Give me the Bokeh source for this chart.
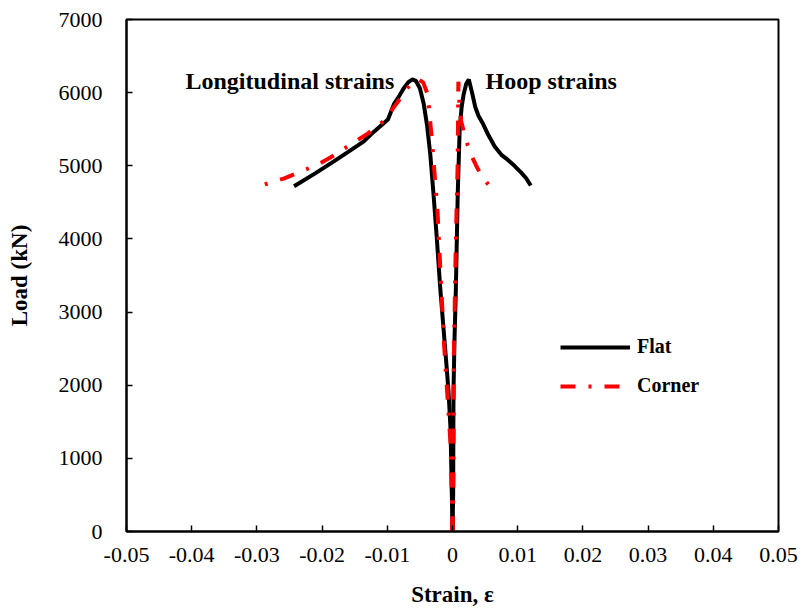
from bokeh.plotting import figure
from bokeh.models import (Range1d, FixedTicker, NumeralTickFormatter, Label,
                          Legend, LegendItem)
from bokeh.embed import file_html
from bokeh.resources import INLINE

# ---------------- data ----------------
flat_long_strain = [0, -0.0001, -0.0003, -0.0006, -0.0009, -0.0014, -0.0019, -0.0024,
                    -0.0029, -0.0034, -0.0039, -0.0044, -0.0050, -0.0056, -0.0062,
                    -0.0068, -0.0075, -0.0084, -0.0090, -0.0099, -0.0120, -0.0136,
                    -0.0160, -0.0182, -0.0210, -0.0243]
flat_long_load = [0, 500, 1400, 1900, 2250, 2800, 3350, 4000,
                  4600, 5150, 5550, 5840, 6060, 6160, 6180,
                  6140, 6057, 5921, 5839, 5634, 5470, 5334,
                  5190, 5061, 4900, 4720]

flat_hoop_strain = [0, 0.0001, 0.00015, 0.0003, 0.0005, 0.0008, 0.0011, 0.0014, 0.0017,
                    0.0021, 0.0025, 0.0030, 0.0035, 0.0040, 0.0047, 0.0055, 0.0065,
                    0.0075, 0.0085, 0.0095, 0.0105, 0.0113, 0.0120]
flat_hoop_load = [0, 500, 1900, 2600, 3250, 4600, 5500, 5800, 5975,
                  6120, 6180, 6000, 5800, 5680, 5570, 5420, 5260,
                  5150, 5080, 5000, 4910, 4830, 4730]

corner_long_strain = [0, -0.0001, -0.0003, -0.0008, -0.0013, -0.0018, -0.0023, -0.0031,
                      -0.0038, -0.0045, -0.0052, -0.0058, -0.0064, -0.0080, -0.0106,
                      -0.0130, -0.0156, -0.0180, -0.0206, -0.0230, -0.0258, -0.0290]
corner_long_load = [0, 500, 1200, 1883, 2565, 3465, 4379, 5293,
                    5975, 6140, 6180, 6150, 6125, 5921, 5607,
                    5440, 5293, 5150, 5020, 4930, 4829, 4740]

corner_hoop_strain = [0, 0.0001, 0.00015, 0.0002, 0.0005, 0.0008, 0.0009, 0.0010,
                      0.0011, 0.0013, 0.0017, 0.0023, 0.0030, 0.0038, 0.0047, 0.0056]
corner_hoop_load = [0, 500, 969, 2333, 3929, 5061, 6150, 6000,
                    5800, 5620, 5480, 5290, 5120, 4970, 4840, 4730]

x_ticks = [-0.05, -0.04, -0.03, -0.02, -0.01, 0, 0.01, 0.02, 0.03, 0.04, 0.05]
y_ticks = [0, 1000, 2000, 3000, 4000, 5000, 6000, 7000]

series_names = ["Flat", "Corner"]
annotation_texts = ["Longitudinal strains", "Hoop strains"]

FONT = "Liberation Serif"

p = figure(frame_width=652, frame_height=512, output_backend="svg", toolbar_location=None,
           x_range=Range1d(-0.05, 0.05), y_range=Range1d(0, 7000))
p.min_border_left = 126
p.min_border_right = 24
p.min_border_top = 19
p.min_border_bottom = 84
p.background_fill_color = "white"
p.border_fill_color = "white"
p.outline_line_color = "black"
p.outline_line_width = 2
p.xgrid.visible = False
p.ygrid.visible = False

for ax in (p.xaxis[0], p.yaxis[0]):
    ax.axis_line_width = 2
    ax.axis_line_color = "black"
    ax.major_tick_in = 6
    ax.major_tick_out = 0
    ax.major_tick_line_width = 1.5
    ax.minor_tick_line_color = None
    ax.major_label_text_font = FONT
    ax.major_label_text_font_size = "22px"
    ax.major_label_text_color = "black"
    ax.axis_label_text_font = FONT
    ax.axis_label_text_font_style = "bold"
    ax.axis_label_text_font_size = "23px"
    ax.axis_label_text_color = "black"

p.xaxis[0].ticker = FixedTicker(ticks=x_ticks)
p.xaxis[0].formatter = NumeralTickFormatter(format="0.[00]")
p.xaxis[0].major_label_standoff = 16
p.xaxis[0].axis_label = "Strain, ε"
p.xaxis[0].axis_label_standoff = 17
p.yaxis[0].ticker = FixedTicker(ticks=y_ticks)
p.yaxis[0].formatter = NumeralTickFormatter(format="0")
p.yaxis[0].major_label_standoff = 24
p.yaxis[0].axis_label = "Load (kN)"
p.yaxis[0].axis_label_standoff = 24

# curves
r_f1 = p.line(flat_long_strain, flat_long_load, line_color="black", line_width=4)
r_f2 = p.line(flat_hoop_strain, flat_hoop_load, line_color="black", line_width=4)
r_c1 = p.line(corner_long_strain, corner_long_load, line_color="red", line_width=4,
              line_dash="15 13 3 13")
r_c2 = p.line(corner_hoop_strain, corner_hoop_load, line_color="red", line_width=4,
              line_dash="15 13 3 13")

legend = Legend(items=[LegendItem(label=series_names[0], renderers=[r_f1]),
                       LegendItem(label=series_names[1], renderers=[r_c1])],
                location=(434, 134))
legend.border_line_color = None
legend.background_fill_alpha = 0
legend.padding = 0
legend.margin = 0
legend.spacing = 16
legend.glyph_width = 70
legend.glyph_height = 20
legend.label_height = 20
legend.label_standoff = 7
legend.label_text_font = FONT
legend.label_text_font_style = "bold"
legend.label_text_font_size = "20px"
legend.label_text_color = "black"
p.add_layout(legend, "center")

# annotations
for txt, xx in zip(annotation_texts, [-0.04095, 0.00506]):
    p.add_layout(Label(x=xx, y=6166, text=txt, text_font=FONT, text_font_style="bold",
                       text_font_size="24px", text_align="left",
                       text_baseline="alphabetic", text_color="black"))

open("out.html", "w").write(file_html(p, INLINE))
